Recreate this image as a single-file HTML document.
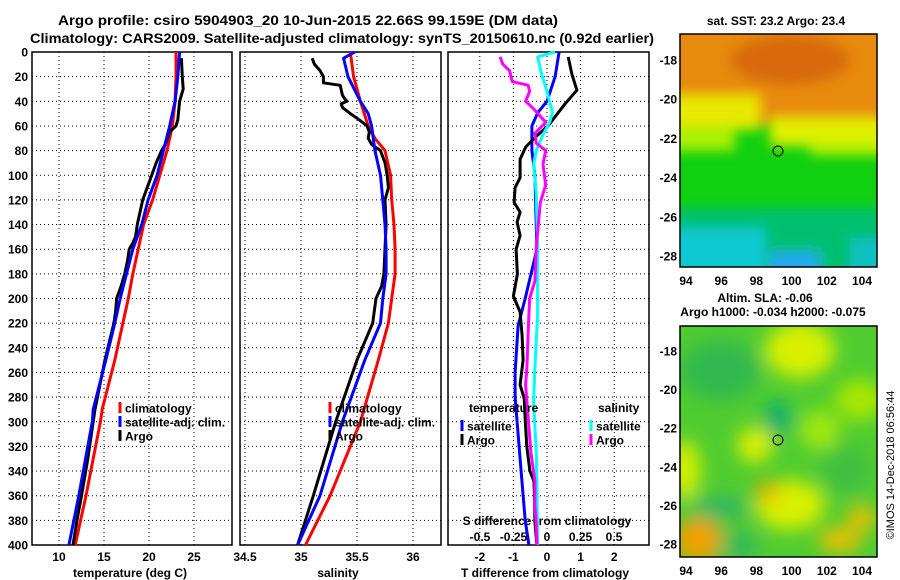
<!DOCTYPE html>
<html><head><meta charset="utf-8"><style>
html,body{margin:0;padding:0;background:#fff;}
svg{display:block;font-family:"Liberation Sans",sans-serif;font-weight:bold;}
</style></head><body>
<svg id="chart" width="900" height="580" viewBox="0 0 900 580" xmlns="http://www.w3.org/2000/svg">
<defs>
<filter id="blur1" x="-20%" y="-20%" width="140%" height="140%"><feGaussianBlur stdDeviation="6"/></filter>
<filter id="blur2" x="-20%" y="-20%" width="140%" height="140%"><feGaussianBlur stdDeviation="9"/></filter>
<clipPath id="clipM1"><rect x="680" y="34" width="197" height="233"/></clipPath>
<clipPath id="clipM2"><rect x="680" y="326" width="197" height="231"/></clipPath>
</defs>
<text x="58" y="25" font-size="14" textLength="500" lengthAdjust="spacingAndGlyphs">Argo profile: csiro 5904903_20 10-Jun-2015 22.66S 99.159E (DM data)</text>
<text x="30" y="43" font-size="14" textLength="624" lengthAdjust="spacingAndGlyphs">Climatology: CARS2009. Satellite-adjusted climatology: synTS_20150610.nc (0.92d earlier)</text>

<!-- Map 1 -->
<g clip-path="url(#clipM1)">
  <rect x="680" y="34" width="197" height="233" fill="#10d010"/>
  <g filter="url(#blur1)">
    <rect x="660" y="10" width="240" height="90" fill="#e88a10"/>
    <rect x="760" y="10" width="140" height="115" fill="#e88a10"/>
    <ellipse cx="790" cy="60" rx="60" ry="25" fill="#d86a08"/>
    <rect x="660" y="95" width="100" height="35" fill="#e8e800"/>
    <rect x="770" y="118" width="130" height="28" fill="#e0f000"/>
    <rect x="660" y="126" width="75" height="25" fill="#a8f000"/>
    <rect x="810" y="140" width="90" height="15" fill="#c0f000"/>
    <rect x="660" y="208" width="240" height="80" fill="#00c070"/>
    <rect x="660" y="228" width="105" height="60" fill="#10c8d0"/>
    <rect x="850" y="238" width="50" height="40" fill="#10c0c0"/>
    <rect x="770" y="252" width="50" height="30" fill="#20a8f0"/>
  </g>
</g>
<rect x="680" y="34" width="197" height="233" fill="none" stroke="#000" stroke-width="1.5"/>
<circle cx="778" cy="151" r="5" fill="none" stroke="#000" stroke-width="1"/>
<text x="776" y="25" font-size="12" text-anchor="middle">sat. SST: 23.2 Argo: 23.4</text>

<!-- Map 2 -->
<g clip-path="url(#clipM2)">
  <rect x="680" y="326" width="197" height="231" fill="#50cc30"/>
  <g filter="url(#blur2)">
    <ellipse cx="800" cy="350" rx="35" ry="28" fill="#d8f000"/>
    <ellipse cx="860" cy="400" rx="25" ry="20" fill="#a8e800"/>
    <ellipse cx="820" cy="430" rx="20" ry="20" fill="#a0e810"/>
    <ellipse cx="755" cy="445" rx="18" ry="18" fill="#d8f000"/>
    <ellipse cx="685" cy="470" rx="15" ry="30" fill="#d8f000"/>
    <ellipse cx="790" cy="505" rx="35" ry="25" fill="#d8f000"/>
    <ellipse cx="768" cy="492" rx="12" ry="10" fill="#f0b000"/>
    <ellipse cx="698" cy="540" rx="25" ry="22" fill="#f0a000"/>
    <ellipse cx="840" cy="540" rx="22" ry="12" fill="#f0c000"/>
    <ellipse cx="862" cy="518" rx="15" ry="12" fill="#f0c000"/>
    <ellipse cx="720" cy="370" rx="40" ry="30" fill="#30b850"/>
    <ellipse cx="778" cy="418" rx="14" ry="18" fill="#10b070"/>
    <ellipse cx="720" cy="508" rx="30" ry="12" fill="#30b860"/>
    <ellipse cx="740" cy="545" rx="20" ry="12" fill="#30b860"/>
    <ellipse cx="845" cy="470" rx="25" ry="25" fill="#40c040"/>
  </g>
</g>
<rect x="680" y="326" width="197" height="231" fill="none" stroke="#000" stroke-width="1.5"/>
<circle cx="778" cy="440" r="5" fill="none" stroke="#000" stroke-width="1"/>
<text x="765" y="302" font-size="12" text-anchor="middle">Altim. SLA: -0.06</text>
<text x="773" y="316" font-size="12" text-anchor="middle">Argo h1000: -0.034 h2000: -0.075</text>
<text transform="translate(894,465) rotate(-90)" font-size="11" font-weight="normal" text-anchor="middle">©IMOS 14-Dec-2018 06:56:44</text>
<g id="plots"></g>
</svg>
<script>
// ---- data (depth in m) ----
var depthTicks = [0,20,40,60,80,100,120,140,160,180,200,220,240,260,280,300,320,340,360,380,400];
var tempTicks = [10,15,20,25];
var salTicks = [34.5,35,35.5,36];
var tdiffTicks = [-2,-1,0,1,2];
var sdiffTicks = [-0.5,-0.25,0,0.25,0.5];
var sdiffTickLabels = ["-0.5","-0.25","0","0.25","0.5"];
var lonTicks = [94,96,98,100,102,104];
var lat1Ticks = [-18,-20,-22,-24,-26,-28];

var tempClimDepth = [0,20,40,60,80,100,120,140,160,180,200,220,250,290,300,360,400];
var tempClim      = [23.0,23.0,22.9,22.6,22.0,21.2,20.4,19.4,18.8,18.2,17.7,17.1,16.2,14.8,14.6,13.0,11.8];
var tempSatDepth = [0,20,40,60,80,100,120,140,160,180,200,220,250,290,300,360,400];
var tempSat      = [23.4,23.2,22.9,22.3,21.6,20.9,19.9,19.2,18.2,17.5,16.8,16.2,15.2,13.8,13.7,12.2,11.1];
var tempArgoDepth = [5,20,30,40,55,60,65,75,80,90,100,110,120,130,140,150,155,160,170,180,190,200,210,220,250,290,300,330,360,380,400];
var tempArgo      = [23.6,23.7,23.8,23.4,23.2,23.0,22.3,21.8,21.4,20.8,20.3,19.8,19.3,19.0,18.7,18.5,18.2,17.8,17.6,17.3,16.9,16.4,16.3,16.1,15.1,14.0,13.8,13.2,12.5,12.0,11.55];

var salClimDepth = [0,20,40,60,70,80,100,120,140,160,180,200,220,250,300,360,400];
var salClim      = [35.44,35.47,35.53,35.60,35.66,35.75,35.80,35.81,35.83,35.84,35.84,35.81,35.78,35.69,35.53,35.26,35.04];
var salSatDepth = [0,5,20,40,50,60,80,100,120,140,160,180,200,220,250,300,360,400];
var salSat      = [35.48,35.38,35.42,35.53,35.60,35.63,35.66,35.71,35.73,35.75,35.76,35.76,35.73,35.71,35.57,35.37,35.17,34.97];
var salArgoDepth = [5,10,15,20,25,27,35,38,40,42,45,50,55,60,65,70,75,80,90,100,110,120,140,160,180,190,200,220,250,300,330,360,400];
var salArgo      = [35.10,35.12,35.17,35.20,35.20,35.35,35.37,35.39,35.41,35.36,35.37,35.44,35.52,35.59,35.61,35.60,35.63,35.71,35.75,35.77,35.78,35.75,35.76,35.75,35.74,35.72,35.67,35.64,35.50,35.31,35.21,35.11,34.97];

var tdSatDepth = [0,20,40,49,60,80,100,160,200,222,260,280,300,340,380,400];
var tdSat      = [0.36,0.24,0,-0.27,-0.45,-0.45,-0.36,-0.30,-0.65,-0.86,-0.95,-0.95,-0.89,-0.77,-0.65,-0.54];
var tdArgoDepth = [4,18,31,42,60,68,77,87,102,110,122,130,138,149,160,180,198,211,230,250,270,281,298,320,340,348,362,381,400];
var tdArgo      = [0.63,0.74,0.89,0.54,0.03,-0.30,-0.63,-0.80,-0.80,-0.95,-0.98,-0.80,-0.89,-0.80,-0.92,-0.88,-1.00,-0.80,-0.74,-0.71,-0.80,-0.68,-0.65,-0.60,-0.51,-0.39,-0.37,-0.36,-0.30];
var sdSatDepth = [0,4,18,32,49,57,67,80,91,116,158,214,256,284,325,353,400];
var sdSat      = [0.06,-0.07,-0.04,0,0.04,0.02,-0.03,-0.08,-0.10,-0.08,-0.07,-0.07,-0.09,-0.10,-0.08,-0.075,-0.07];
var sdArgoDepth = [4,10,15,24,27,32,40,46,57,66,74,80,91,108,122,158,186,200,227,256,270,297,325,348,367,384,400];
var sdArgo      = [-0.35,-0.33,-0.28,-0.26,-0.14,-0.13,-0.16,-0.10,-0.01,-0.09,-0.08,-0.01,-0.03,-0.01,-0.05,-0.08,-0.09,-0.13,-0.14,-0.15,-0.16,-0.14,-0.12,-0.09,-0.09,-0.08,-0.075];

// ---- scales ----
function yDepth(d){ return 52 + d*1.2325; }
function xTemp(t){ return 149 + (t-20)*9; }
function xSal(s){ return 301 + (s-35)*112; }
function xTd(v){ return 547 + v*33.6; }
function xSd(v){ return 547 + v*134; }
function xLon1(l){ return 686 + (l-94)*17.6; }
function yLat1(l){ return 60 + (-18-l)*19.6; }
function yLat2(l){ return 351 + (-18-l)*19.3; }

var NS="http://www.w3.org/2000/svg";
var root=document.getElementById('plots');
function mk(tag,attrs,parent){var e=document.createElementNS(NS,tag);for(var k in attrs)e.setAttribute(k,attrs[k]);(parent||root).appendChild(e);return e;}

var panels=[{x0:32,x1:232,name:'temperature-panel',grid:tempTicks,gx:xTemp},
            {x0:240,x1:441,name:'salinity-panel',grid:salTicks,gx:xSal},
            {x0:448,x1:649,name:'difference-panel',grid:tdiffTicks,gx:xTd}];
panels.forEach(function(p){
  var g=mk('g',{});
  
  
  depthTicks.forEach(function(d){
    if(d===0||d===400)return;
    var l=mk('line',{x1:p.x0,x2:p.x1,y1:yDepth(d),y2:yDepth(d),stroke:'#000','stroke-width':1,'stroke-dasharray':'1,3'},g);
    
    
  });
  p.grid.forEach(function(v){
    var x=p.gx(v); if(x<=p.x0+1||x>=p.x1-1)return;
    var l=mk('line',{x1:x,x2:x,y1:52,y2:545,stroke:'#000','stroke-width':1,'stroke-dasharray':'1,3'},g);
    
    
  });
  var r=mk('rect',{x:p.x0,y:52,width:p.x1-p.x0,height:493,fill:'none',stroke:'#000','stroke-width':1.5},g);
  
  
});

depthTicks.forEach(function(d){
  var t=mk('text',{x:28,y:yDepth(d)+4.5,'font-size':12,'text-anchor':'end'});
  t.textContent=d;
  
  
});
function xLabels(ticks,fx,y,labels,name){
  ticks.forEach(function(v,i){
    var t=mk('text',{x:fx(v),y:y,'font-size':12,'text-anchor':'middle'});
    t.textContent=labels?labels[i]:v;
    
    
  });
}
xLabels(tempTicks,xTemp,561,null,'temperature-tick-label');
xLabels(salTicks,xSal,561,null,'salinity-tick-label');
xLabels(tdiffTicks,xTd,561,null,'tdiff-tick-label');
xLabels(sdiffTicks,xSd,541,sdiffTickLabels,'sdiff-tick-label');
xLabels(lonTicks,xLon1,285,null,'map1-lon-label');
xLabels(lonTicks,xLon1,575,null,'map2-lon-label');
lat1Ticks.forEach(function(l){
  var t=mk('text',{x:677,y:yLat1(l)+4.5,'font-size':12,'text-anchor':'end'});
  t.textContent=l;
  
  
  var t2=mk('text',{x:677,y:yLat2(l)+4.5,'font-size':12,'text-anchor':'end'});
  t2.textContent=l;
  
  
});
function axTitle(x,y,s,name){var t=mk('text',{x:x,y:y,'font-size':12,'text-anchor':'middle'});t.textContent=s;
  
  }
axTitle(130,577,'temperature (deg C)','x-axis-title-temperature');
axTitle(338,577,'salinity','x-axis-title-salinity');
axTitle(545,577,'T difference from climatology','x-axis-title-tdiff');
axTitle(547,525,'S difference from climatology','x-axis-title-sdiff');

function series(depths,vals,fx,color,name){
  var pts=depths.map(function(d,i){return fx(vals[i]).toFixed(1)+','+yDepth(d).toFixed(1);}).join(' ');
  var p=mk('polyline',{points:pts,fill:'none',stroke:color,'stroke-width':3,'stroke-linejoin':'round'});
  
  
}
series(tempClimDepth,tempClim,xTemp,'#ff0000','temperature-climatology-line');
series(tempArgoDepth,tempArgo,xTemp,'#000000','temperature-argo-line');
series(tempSatDepth,tempSat,xTemp,'#0000ff','temperature-satellite-line');
series(salClimDepth,salClim,xSal,'#ff0000','salinity-climatology-line');
series(salArgoDepth,salArgo,xSal,'#000000','salinity-argo-line');
series(salSatDepth,salSat,xSal,'#0000ff','salinity-satellite-line');
series(tdSatDepth,tdSat,xTd,'#0000ff','tdiff-satellite-line');
series(tdArgoDepth,tdArgo,xTd,'#000000','tdiff-argo-line');
series(sdSatDepth,sdSat,xSd,'#00ffff','sdiff-satellite-line');
series(sdArgoDepth,sdArgo,xSd,'#ff00ff','sdiff-argo-line');

function legend(x,y,color,label){
  var b=mk('rect',{x:x-1.5,y:y-6,width:3,height:11,fill:color});
  
  
  var t=mk('text',{x:x+5,y:y+4.5,'font-size':12});
  t.textContent=label;
  
  
}
legend(120,408,'#ff0000','climatology');
legend(120,422,'#0000ff','satellite-adj. clim.');
legend(120,436,'#000000','Argo');
legend(330,408,'#ff0000','climatology');
legend(330,422,'#0000ff','satellite-adj. clim.');
legend(330,436,'#000000','Argo');
var lt=mk('text',{x:469,y:412,'font-size':12});lt.textContent='temperature';


legend(462,426,'#0000ff','satellite');
legend(462,440,'#000000','Argo');
var ls=mk('text',{x:598,y:412,'font-size':12});ls.textContent='salinity';


legend(591,426,'#00ffff','satellite');
legend(591,440,'#ff00ff','Argo');
</script>
</body></html>
